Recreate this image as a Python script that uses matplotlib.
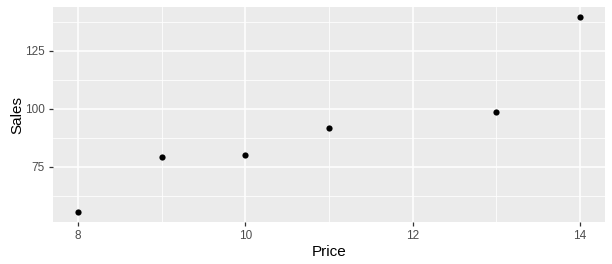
import matplotlib
matplotlib.use("Agg")
import matplotlib.pyplot as plt
from matplotlib.ticker import MultipleLocator

plt.rcParams["font.family"] = ["Liberation Sans", "DejaVu Sans"]

PRICE = [8, 9, 10, 11, 13, 14]
SALES = [55.5, 79.3, 80.2, 91.8, 98.6, 139.7]

X_TICKS = [8, 10, 12, 14]
Y_TICKS = [75, 100, 125]


def main() -> None:
    fig = plt.figure(figsize=(6.12, 2.64), dpi=100)
    ax = fig.add_axes([53 / 612, 42 / 264, 552 / 612, 215 / 264])
    ax.set_facecolor("#EBEBEB")

    ax.scatter(PRICE, SALES, s=20, color="black", zorder=3, linewidths=0)

    xpad = (max(PRICE) - min(PRICE)) * 0.05
    ypad = (max(SALES) - min(SALES)) * 0.05
    ax.set_xlim(min(PRICE) - xpad, max(PRICE) + xpad)
    ax.set_ylim(min(SALES) - ypad, max(SALES) + ypad)

    ax.set_xticks(X_TICKS)
    ax.set_yticks(Y_TICKS)
    ax.xaxis.set_minor_locator(MultipleLocator(1))
    ax.yaxis.set_minor_locator(MultipleLocator(12.5))

    ax.grid(True, which="major", color="white", linewidth=1.1)
    ax.grid(True, which="minor", color="white", linewidth=0.55)
    ax.set_axisbelow(True)

    for spine in ax.spines.values():
        spine.set_visible(False)

    ax.tick_params(which="major", length=3, width=0.9, color="#333333",
                   labelcolor="#4D4D4D", labelsize=8.5, pad=3)
    ax.tick_params(which="minor", length=0)

    ax.set_xlabel("Price", fontsize=11, labelpad=2)
    ax.set_ylabel("Sales", fontsize=11, labelpad=0.5)

    fig.savefig("out.png", dpi=100)


if __name__ == "__main__":
    main()
